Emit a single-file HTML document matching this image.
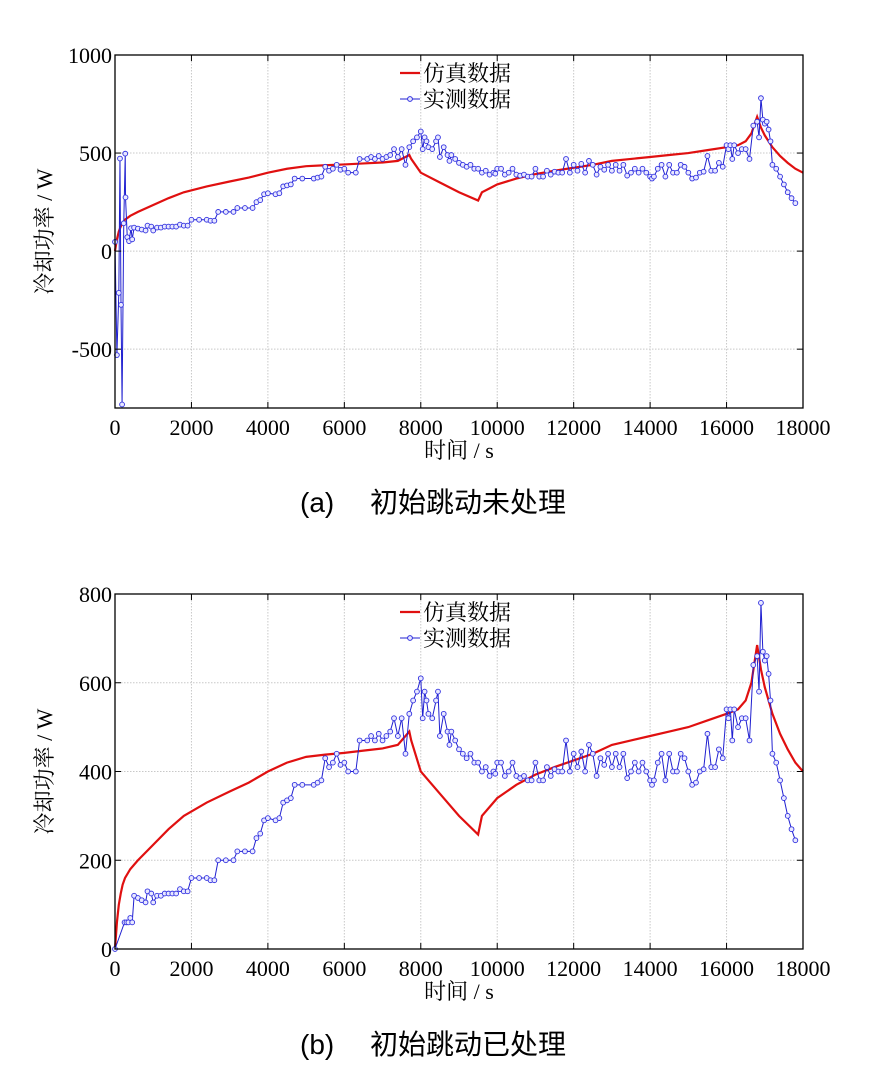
<!DOCTYPE html>
<html><head><meta charset="utf-8">
<style>
html,body{margin:0;padding:0;background:#fff;}
svg{display:block;}
text{font-family:"Liberation Serif","Noto Serif CJK SC","Noto Sans CJK SC",serif;fill:#000;}
.cap{font-family:"Liberation Sans","Noto Sans CJK SC",sans-serif;}
</style></head>
<body>
<svg id="fig" width="887" height="1079" viewBox="0 0 887 1079">
<text class="cap" x="300" y="512" font-size="28">(a)　 初始跳动未处理</text>
<text class="cap" x="300" y="1054" font-size="28">(b)　 初始跳动已处理</text>
</svg>
<script>
// ---- data ----
const simT = [0,50,100,150,200,262,400,600,1000,1400,1800,2400,3000,3500,4000,4500,5000,5500,6000,6500,7000,7400,7700,7750,8000,8500,9000,9500,9600,9800,10000,10500,11000,11500,12000,12500,13000,13500,14000,14500,15000,15500,16000,16300,16500,16650,16800,16900,17000,17200,17400,17600,17800,18000];
const simV = [0,60,100,125,145,160,180,200,235,270,300,330,355,375,400,420,433,438,442,447,452,460,490,470,400,350,300,258,300,320,340,370,393,410,425,440,460,470,480,490,500,515,530,540,560,600,685,630,590,530,485,450,420,400];
const measT = [0,250,300,350,400,450,500,600,700,800,850,950,1000,1100,1200,1300,1400,1500,1600,1700,1800,1900,2000,2200,2400,2500,2600,2700,2900,3100,3200,3400,3600,3700,3800,3900,4000,4200,4300,4400,4500,4600,4700,4900,5200,5300,5400,5500,5600,5700,5800,5900,6000,6100,6300,6400,6600,6700,6800,6900,7000,7100,7200,7300,7400,7500,7600,7700,7800,7900,8000,8050,8100,8150,8200,8300,8400,8450,8500,8600,8700,8750,8800,8900,9000,9100,9200,9300,9400,9500,9600,9700,9800,9900,9950,10000,10100,10200,10300,10400,10500,10600,10700,10800,10900,11000,11100,11200,11300,11400,11500,11600,11700,11800,11900,12000,12100,12200,12300,12400,12500,12600,12700,12800,12900,13000,13100,13200,13300,13400,13500,13600,13700,13800,13900,14000,14050,14100,14200,14300,14400,14500,14600,14700,14800,14900,15000,15100,15200,15300,15400,15500,15600,15700,15800,15900,16000,16050,16100,16150,16200,16300,16400,16500,16600,16700,16800,16850,16900,16950,17000,17050,17100,17150,17200,17300,17400,17500,17600,17700,17800];
const measV = [0,60,60,60,70,60,120,115,110,105,130,125,105,120,120,125,125,125,125,135,130,130,160,160,160,155,155,200,200,200,220,220,220,250,260,290,295,290,295,330,335,340,370,370,370,375,380,430,410,420,440,415,420,400,400,470,470,480,470,485,470,480,490,520,480,520,440,530,560,580,610,520,580,560,530,520,560,580,480,530,490,460,490,470,450,440,430,440,420,420,400,410,390,400,395,420,420,390,400,420,390,385,390,380,380,420,380,380,410,390,405,400,400,470,400,440,410,445,400,460,440,390,430,415,440,410,440,410,440,385,400,420,400,420,400,380,370,380,420,440,380,440,400,400,440,430,400,370,375,400,405,485,410,410,450,430,540,520,540,470,540,500,520,520,470,640,660,580,780,670,650,660,620,560,440,420,380,340,300,270,245];
const jumpT = [0,50,100,130,157,185,229,268,275,321,367,420];
const jumpV = [47,-530,-213,472,-274,-782,142,497,274,71,51,117];
const ticksX = [0,2000,4000,6000,8000,10000,12000,14000,16000,18000];
const ticksYa = [-500,0,500,1000];
const ticksYb = [0,200,400,600,800];

const NS="http://www.w3.org/2000/svg";
const svg=document.getElementById('fig');
function mk(tag,attrs,parent){const e=document.createElementNS(NS,tag);for(const k in attrs)e.setAttribute(k,attrs[k]);(parent||svg).appendChild(e);return e;}

function chart(id,top,bottom,ymin,ymax,yticks,mT,mV){
  const L=115,R=803;
  const g=mk('g',{});
  
  
  const sx=t=>L+(t-0)/18000*(R-L);
  const sy=v=>bottom-(v-ymin)/(ymax-ymin)*(bottom-top);
  ticksX.forEach(t=>{ if(t>0&&t<18000){const l=mk('line',{x1:sx(t),x2:sx(t),y1:top,y2:bottom,stroke:'#c8c8c8','stroke-width':1,'stroke-dasharray':'1.5,1.5'},g);
    }});
  yticks.forEach(v=>{ if(v>ymin&&v<ymax){const l=mk('line',{x1:L,x2:R,y1:sy(v),y2:sy(v),stroke:'#c8c8c8','stroke-width':1,'stroke-dasharray':'1.5,1.5'},g);
    }});
  const sp=mk('polyline',{points:simT.map((t,i)=>sx(t)+','+sy(simV[i])).join(' '),fill:'none',stroke:'#e01010','stroke-width':2.2},g);
  
  
  const n=Math.min(mT.length,mV.length);
  const pts=[];for(let i=0;i<n;i++)pts.push(sx(mT[i])+','+sy(mV[i]));
  const mp=mk('polyline',{points:pts.join(' '),fill:'none',stroke:'#2020d0','stroke-width':1},g);
  
  
  for(let i=0;i<n;i++){const c=mk('circle',{cx:sx(mT[i]),cy:sy(mV[i]),r:2.4,fill:'#e8e8ff',stroke:'#3030e0','stroke-width':0.9},g);
    
    }
  const fr=mk('rect',{x:L,y:top,width:R-L,height:bottom-top,fill:'none',stroke:'#000','stroke-width':1.3},g);
  
  
  ticksX.forEach(t=>{mk('line',{x1:sx(t),x2:sx(t),y1:bottom,y2:bottom-6,stroke:'#000'},g);mk('line',{x1:sx(t),x2:sx(t),y1:top,y2:top+6,stroke:'#000'},g);
    const tx=mk('text',{x:sx(t),y:bottom+27,'font-size':22,'text-anchor':'middle'},g);tx.textContent=t;
    });
  yticks.forEach(v=>{mk('line',{x1:L,x2:L+6,y1:sy(v),y2:sy(v),stroke:'#000'},g);mk('line',{x1:R,x2:R-6,y1:sy(v),y2:sy(v),stroke:'#000'},g);
    const tx=mk('text',{x:L-3,y:sy(v)+8,'font-size':22,'text-anchor':'end'},g);tx.textContent=v;
    });
  const xl=mk('text',{x:459,y:bottom+50,'font-size':22,'text-anchor':'middle'},g);xl.textContent='时间 / s';
  
  const cy=(top+bottom)/2;
  const yl=mk('text',{x:52,y:cy,'font-size':22,'text-anchor':'middle',transform:'rotate(-90 52 '+cy+')'},g);yl.textContent='冷却功率 / W';
  
  const lg=mk('g',{},g);
  
  
  mk('line',{x1:400,x2:420,y1:top+18,y2:top+18,stroke:'#e01010','stroke-width':2.2},lg);
  const t1=mk('text',{x:423,y:top+26,'font-size':22},lg);t1.textContent='仿真数据';
  
  mk('line',{x1:400,x2:420,y1:top+44,y2:top+44,stroke:'#2020d0','stroke-width':1},lg);
  mk('circle',{cx:410,cy:top+44,r:2.4,fill:'#e8e8ff',stroke:'#3030e0'},lg);
  const t2=mk('text',{x:423,y:top+52,'font-size':22},lg);t2.textContent='实测数据';
  
}
const aT=jumpT.concat(measT.filter(t=>t>420));
const aV=jumpV.concat(measV.filter((v,i)=>measT[i]>420));
chart('a',55,408,-800,1000,ticksYa,aT,aV);
chart('b',594,949,0,800,ticksYb,measT,measV);
</script>
</body></html>
